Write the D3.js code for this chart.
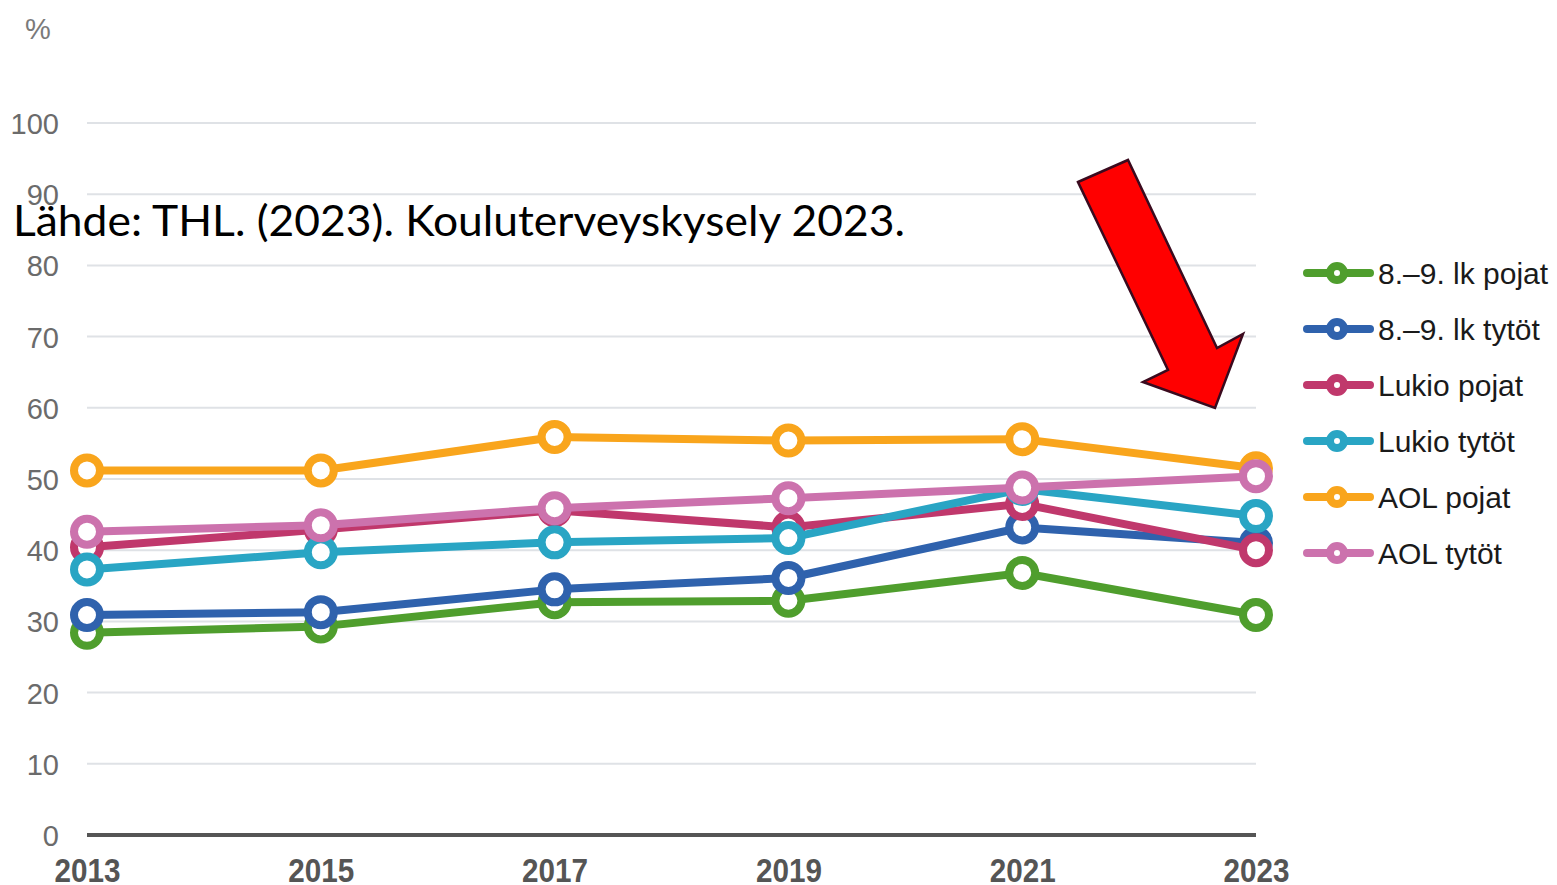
<!DOCTYPE html>
<html>
<head>
<meta charset="utf-8">
<script src="https://cdn.jsdelivr.net/npm/d3@7"></script>
<style>
  body { margin: 0; background: #fff; }
  svg { display: block; }
</style>
</head>
<body>
<svg id="chart" width="1557" height="885"></svg>
<script>
const years = [2013, 2015, 2017, 2019, 2021, 2023];
const yTicks = [0, 10, 20, 30, 40, 50, 60, 70, 80, 90, 100];

const seriesNames = ["8.–9. lk pojat", "8.–9. lk tytöt", "Lukio pojat", "Lukio tytöt", "AOL pojat", "AOL tytöt"];
const seriesColors = ["#4f9e2d", "#2f62ad", "#c0386c", "#29a5c4", "#f9a51c", "#cc72ad"];

const lk89Pojat = [28.4, 29.3, 32.7, 32.9, 36.8, 30.9];
const lk89Tytot = [30.9, 31.3, 34.5, 36.1, 43.2, 41.0];
const lukioPojat = [40.4, 42.9, 45.6, 43.2, 46.5, 40.0];
const lukioTytot = [37.3, 39.7, 41.1, 41.7, 48.6, 44.8];
const aolPojat = [51.2, 51.2, 55.9, 55.4, 55.6, 51.5];
const aolTytot = [42.6, 43.5, 45.9, 47.3, 48.8, 50.4];

const seriesValues = [lk89Pojat, lk89Tytot, lukioPojat, lukioTytot, aolPojat, aolTytot];

const svg = d3.select("#chart");

const x = d3.scalePoint()
    .domain(years)
    .range([87, 1256]);

const y = d3.scaleLinear()
    .domain([0, 100])
    .range([835, 123]);

// gridlines
svg.append("g")
    .selectAll("line")
    .data(yTicks.filter(d => d > 0))
    .enter()
    .append("line")
    .attr("x1", 87)
    .attr("x2", 1256)
    .attr("y1", d => y(d))
    .attr("y2", d => y(d))
    .attr("stroke", "#dfe2e6")
    .attr("stroke-width", 2);

// y labels
const yAxis = svg.append("g")
    .attr("transform", "translate(59,0)")
    .call(d3.axisLeft(y).tickValues(yTicks).tickSize(0).tickPadding(0));
yAxis.select(".domain").remove();
yAxis.selectAll("text")
    .attr("font-family", "Liberation Sans, Arial, sans-serif")
    .attr("font-size", 29)
    .attr("fill", "#6b6b6b")
    .attr("dy", "0.36em");

svg.append("text")
    .attr("x", 25)
    .attr("y", 39)
    .attr("font-family", "Liberation Sans, Arial, sans-serif")
    .attr("font-size", 29)
    .attr("fill", "#7a7a7a")
    .text("%");

// baseline
svg.append("line")
    .attr("x1", 87)
    .attr("x2", 1256)
    .attr("y1", y(0))
    .attr("y2", y(0))
    .attr("stroke", "#555")
    .attr("stroke-width", 4);

// x labels
const xAxis = svg.append("g")
    .attr("transform", `translate(0,${y(0)})`)
    .call(d3.axisBottom(x).tickSize(0).tickPadding(0));
xAxis.select(".domain").remove();
xAxis.selectAll("text")
    .attr("font-family", "Liberation Sans Narrow, Arial Narrow, Liberation Sans, sans-serif")
    .attr("font-weight", "bold")
    .attr("font-size", 34)
    .attr("textLength", 66)
    .attr("lengthAdjust", "spacingAndGlyphs")
    .attr("fill", "#555")
    .attr("dy", "1.39em")
    .attr("y", 0);

// lines
const line = d3.line()
    .x((d, i) => x(years[i]))
    .y(d => y(d));

seriesValues.forEach((vals, s) => {
    const g = svg.append("g");
    g.append("path")
        .attr("d", line(vals))
        .attr("fill", "none")
        .attr("stroke", seriesColors[s])
        .attr("stroke-width", 8)
        .attr("stroke-linejoin", "round");
    g.selectAll("circle")
        .data(vals)
        .enter()
        .append("circle")
        .attr("cx", (d, i) => x(years[i]))
        .attr("cy", d => y(d))
        .attr("r", 13)
        .attr("fill", "#fff")
        .attr("stroke", seriesColors[s])
        .attr("stroke-width", 8);
});

// legend
const legendY = d3.scalePoint()
    .domain(seriesNames)
    .range([273, 553]);

const legend = svg.append("g")
    .selectAll("g")
    .data(seriesNames)
    .enter()
    .append("g")
    .attr("transform", d => `translate(0,${legendY(d)})`);

legend.append("line")
    .attr("x1", 1307)
    .attr("x2", 1370)
    .attr("stroke", (d, i) => seriesColors[i])
    .attr("stroke-width", 8)
    .attr("stroke-linecap", "round");
legend.append("circle")
    .attr("cx", 1337)
    .attr("r", 7)
    .attr("fill", "#fff")
    .attr("stroke", (d, i) => seriesColors[i])
    .attr("stroke-width", 8);
legend.append("text")
    .attr("x", 1378)
    .attr("dy", "0.36em")
    .attr("font-family", "Liberation Sans, Arial, sans-serif")
    .attr("font-size", 30)
    .attr("fill", "#1a1a1a")
    .text(d => d);

// source note
svg.append("text")
    .attr("x", 13)
    .attr("y", 236)
    .attr("font-family", "Lato, sans-serif")
    .attr("font-size", 42)
    .attr("textLength", 892)
    .attr("lengthAdjust", "spacingAndGlyphs")
    .attr("fill", "#000")
    .text("Lähde: THL. (2023). Kouluterveyskysely 2023.");

// red arrow annotation
const arrowPts = [[1078, 182], [1128, 160], [1217, 348], [1243, 334], [1215, 408], [1143, 382], [1168, 370]];
svg.append("polygon")
    .attr("points", arrowPts.map(p => p.join(",")).join(" "))
    .attr("fill", "#ff0000")
    .attr("stroke", "#3a0a1e")
    .attr("stroke-width", 2.5)
    .attr("stroke-linejoin", "miter");
</script>
</body>
</html>
